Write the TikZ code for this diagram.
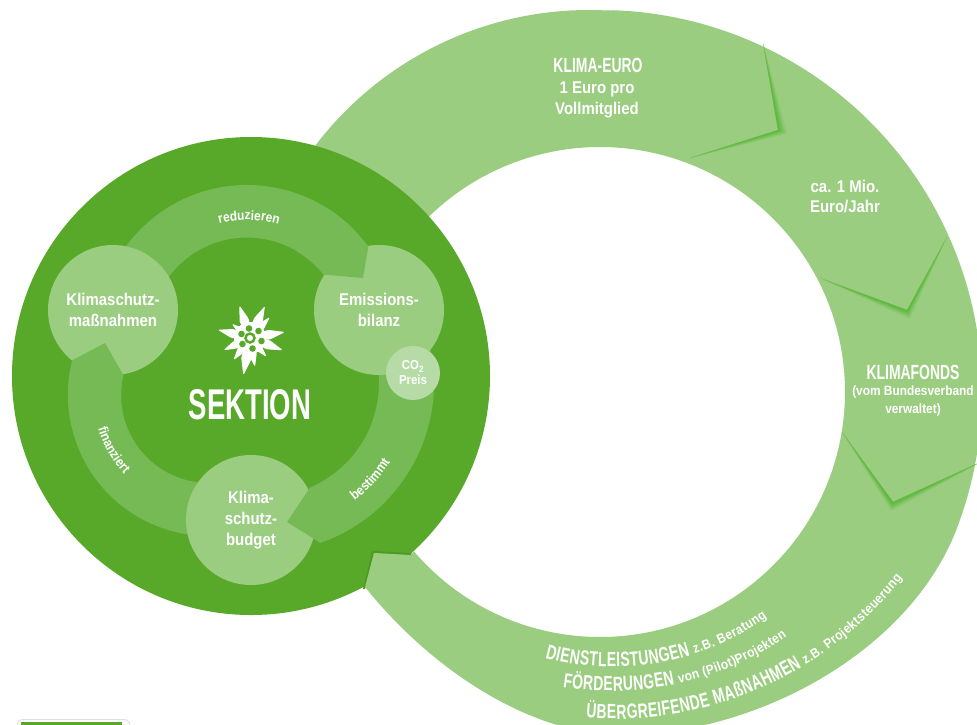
\documentclass[tikz,border=0pt]{standalone}
\usepackage{fontspec}
\usetikzlibrary{calc,decorations.text}
\newfontfamily\labelfont[FakeStretch=0.88]{Liberation Sans}
\newfontfamily\capsfont[FakeStretch=0.68]{Liberation Sans}
\newfontfamily\titlefont[FakeStretch=0.64]{Liberation Sans}
\definecolor{darkgreen}{HTML}{58A92A}
\definecolor{bandgreen}{HTML}{76BA55}
\definecolor{lightgreen}{HTML}{9ACD80}
\definecolor{palegreen}{HTML}{B7DBA6}
\definecolor{shadowgreen}{HTML}{5CB83A}
\newcommand{\smalltxt}{\labelfont\bfseries\fontsize{13.5}{13.5}\selectfont\color{white}}
\newcommand{\bigcaps}{\capsfont\bfseries\fontsize{20.5}{20.5}\selectfont\color{white}}
\newcommand{\smallcaps}{\labelfont\bfseries\fontsize{13.5}{13.5}\selectfont\color{white}}
\begin{document}
\begin{tikzpicture}[x=1pt,y=-1pt]
 \tikzstyle{disc}=[circle, minimum size=130pt, inner sep=0pt, fill=lightgreen, text=white, align=center, font=\labelfont\bfseries\fontsize{17}{21}\selectfont]
 \tikzstyle{ringtext}=[text=white, align=center, inner sep=0pt, font=\labelfont\bfseries\fontsize{17}{20.5}\selectfont]
 \tikzstyle{ringcaps}=[text=white, inner sep=0pt, font=\capsfont\bfseries\fontsize{20.5}{20.5}\selectfont]
 \tikzstyle{band}=[fill=bandgreen]
 \tikzstyle{curved}=[decorate]
 \clip (0,0) rectangle (977,724);
 \coordinate (ring) at (600,392);
 \coordinate (ringleft) at (589,354);
 \coordinate (section) at (251,376);
 \coordinate (topc) at (247,335);
 \coordinate (leftc) at (209,395);
 \coordinate (rightc) at (265,383);
 \coordinate (lineA) at (613,406);
 \coordinate (lineB) at (611,380);
 \coordinate (lineC) at (614,354);
 \coordinate (flower) at (250,338);
 % small box cut off by the lower edge
 \draw[black!12, fill=white, rounded corners=6pt, line width=1pt] (17,719.5) rectangle (130,750);
 \fill[darkgreen] (21,722) rectangle (122,750);
 % big ring
 \fill[lightgreen] ($(ringleft)+(150:344pt)$) arc (150:87:344pt) -- ($(ring)+(88:382pt)$) arc (88:-20:382pt)
 	.. controls (915,648) and (760,735) .. (620,735)
 	.. controls (540,735) and (440,680) .. (365,587)
 	-- (374,553) -- (410,555)
 	-- ($(ring)+(-139.4:245pt)$) arc (-139.4:150:245pt) -- cycle;
 % shadows behind the three arrow points
 \foreach \w/\o in {9/.2,6.5/.3,4.5/.4,2.5/.75} {
 	\fill[shadowgreen, opacity=\o] (763,43) -- (778,130) -- (690,158) -- ($(778,130)+(\w,.4*\w)$) -- cycle;
 	\fill[shadowgreen, opacity=\o] (820,278) -- (907,310) -- (947,237) -- ($(907,310)+(.3*\w,\w)$) -- cycle;
 	\fill[shadowgreen, opacity=\o] (842,432) -- (893,502) -- (985,460) -- ($(893,502)+(-.2*\w,\w)$) -- cycle;
 }
 % sektion
 \node[circle, minimum size=478pt, inner sep=0pt, fill=darkgreen] (sektion) at (section) {};
 \draw[black!10!darkgreen, line width=2pt] (364,589) -- (373,552) -- (411,554);
 \fill[lightgreen] (374,553) -- (410,555) -- (430,590) -- (395,600) -- (365,587) -- cycle;
 % bands, their arrow points again after the circles
 \fill[band] ($(topc)+(170:150pt)$) arc (170:36:150pt) -- (363,278) -- ($(topc)+(38.3:97.5pt)$) arc (38.3:170:97.5pt) -- cycle;
 \fill[band] ($(leftc)+(300:141pt)$) arc (300:165.7:141pt) -- (105,343) -- ($(leftc)+(166.9:88pt)$) arc (166.9:300:88pt) -- cycle;
 \fill[band] ($(rightc)+(20:169pt)$) arc (20:-70.9:169pt) -- (287,522) -- ($(rightc)+(-66.8:114pt)$) arc (-66.8:20:114pt) -- cycle;
 \node[disc] (massnahmen) at (113,310) {Klimaschutz-\\maßnahmen};
 \node[disc] (bilanz) at (379,310) {Emissions-\\bilanz};
 \node[disc] (budget) at (251,520) {Klima-\\schutz-\\budget};
 \fill[band] ($(topc)+(60:150pt)$) arc (60:36:150pt) -- (363,278) -- ($(topc)+(38.3:97.5pt)$) arc (38.3:60:97.5pt) -- cycle;
 \fill[band] ($(leftc)+(190:141pt)$) arc (190:165.7:141pt) -- (105,343) -- ($(leftc)+(166.9:88pt)$) arc (166.9:190:88pt) -- cycle;
 \fill[band] ($(rightc)+(-45:169pt)$) arc (-45:-70.9:169pt) -- (287,522) -- ($(rightc)+(-66.8:114pt)$) arc (-66.8:-45:114pt) -- cycle;
 \node[circle, minimum size=54pt, inner sep=0pt, fill=palegreen, text=white, align=center, font=\labelfont\bfseries\fontsize{13}{15}\selectfont] (preis) at (413,373) {CO\textsubscript{2}\\Preis};
 % labels on the bands
 \path[curved, decoration={text along path, text align=center, text={|\smalltxt|reduzieren}}] ($(topc)+(125:115pt)$) arc (125:53:115pt);
 \path[curved, decoration={text along path, text align=center, text={|\smalltxt|finanziert}}] ($(leftc)+(170:116pt)$) arc (170:250:116pt);
 \path[curved, decoration={text along path, text align=center, text={|\smalltxt|bestimmt}}] ($(rightc)+(-85:148pt)$) arc (-85:0:148pt);
 % edelweiss
 \fill[white] (flower) circle (16pt);
 \foreach \dx/\dy in {-10.7/-32.7,15/-32,20/-21,35/-6,33/12.3,16.7/19,5/29,-6.7/37.3,-16.7/22.3,-26.7/12.3,-32.3/-8.3,-18.3/-14.3} {
 	\coordinate (tip) at ($(flower)+(\dx,\dy)$);
 	\fill[white, rounded corners=1.5pt] (flower) -- ($(flower)!.55!15:(tip)$) -- (tip) -- ($(flower)!.55!-15:(tip)$) -- cycle;
 }
 \draw[darkgreen, line width=2.5pt] (flower) circle (4.5pt);
 \foreach \dx/\dy in {-1/-9.5,8.5/-7,11.5/3,2.5/10.5,-7.5/6,-8.5/-4} {
 	\fill[darkgreen] ($(flower)+(\dx,\dy)$) circle (3.3pt);
 }
 \node[text=white, inner sep=0pt, font=\titlefont\bfseries\fontsize{43}{43}\selectfont] (sektiontext) at (250,405) {SEKTION};
 % texts on the ring
 \node[ringcaps] (klimaeuro) at (598,65) {KLIMA-EURO};
 \node[ringtext] (euro) at (597,100) {1 Euro pro\\Vollmitglied};
 \node[ringtext] (mio) at (845,196.5) {ca. 1 Mio.\\Euro/Jahr};
 \node[ringcaps] (klimafonds) at (913,372) {KLIMAFONDS};
 \node[ringtext, font=\labelfont\bfseries\fontsize{13.5}{18}\selectfont] (verband) at (913,401) {(vom Bundesverband\\verwaltet)};
 \path[curved, decoration={text along path, text align={fit to path}, text={|\bigcaps|DIENSTLEISTUNGEN |\smallcaps|z.B. Beratung}}] ($(lineA)+(-105.1:261pt)$) arc (-105.1:-53.9:261pt);
 \path[curved, decoration={text along path, text align={fit to path}, text={|\bigcaps|FÖRDERUNGEN |\smallcaps|von (Pilot)Projekten}}] ($(lineB)+(-98.9:311pt)$) arc (-98.9:-55.6:311pt);
 \path[curved, decoration={text along path, text align={fit to path}, text={|\bigcaps|ÜBERGREIFENDE MAßNAHMEN |\smallcaps|z.B. Projektsteuerung}}] ($(lineC)+(-94.4:365pt)$) arc (-94.4:-37.9:365pt);
\end{tikzpicture}
\end{document}
